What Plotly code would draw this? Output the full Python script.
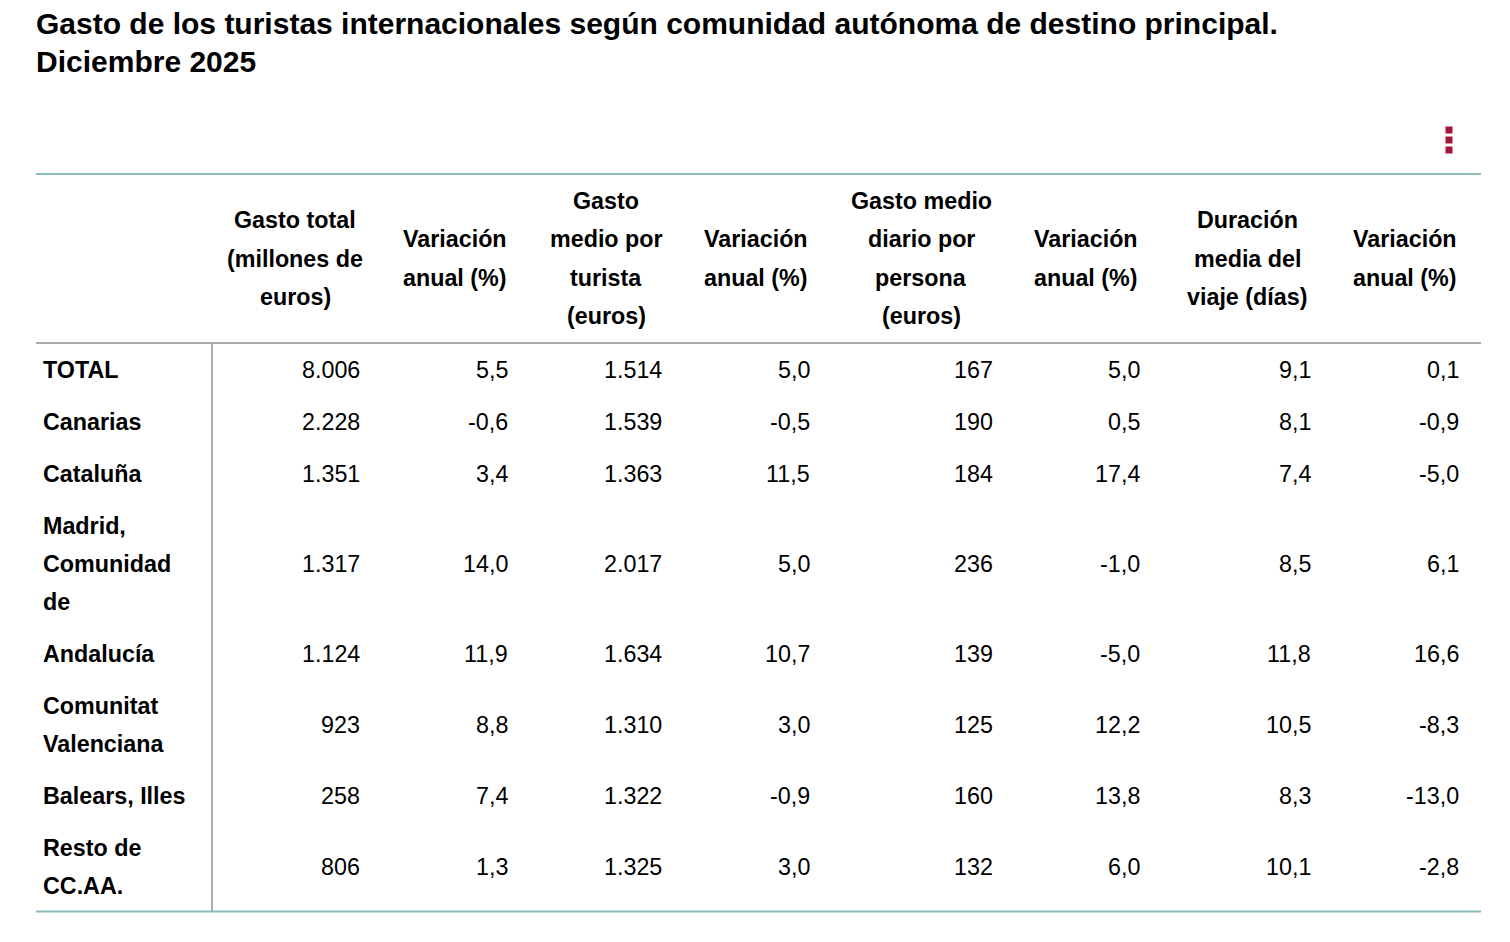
import plotly.graph_objects as go

# Gasto de los turistas internacionales, diciembre 2025
regions = [["TOTAL"], ["Canarias"], ["Cataluña"], ["Madrid,", "Comunidad", "de"],
           ["Andalucía"], ["Comunitat", "Valenciana"], ["Balears, Illes"], ["Resto de", "CC.AA."]]

headers = [
    ["Gasto total", "(millones de", "euros)"],
    ["Variación", "anual (%)"],
    ["Gasto", "medio por", "turista", "(euros)"],
    ["Variación", "anual (%)"],
    ["Gasto medio", "diario por", "persona", "(euros)"],
    ["Variación", "anual (%)"],
    ["Duración", "media del", "viaje (días)"],
    ["Variación", "anual (%)"],
]

gasto_total = [8006, 2228, 1351, 1317, 1124, 923, 258, 806]
var_gasto_total = [5.5, -0.6, 3.4, 14.0, 11.9, 8.8, 7.4, 1.3]
gasto_medio = [1514, 1539, 1363, 2017, 1634, 1310, 1322, 1325]
var_gasto_medio = [5.0, -0.5, 11.5, 5.0, 10.7, 3.0, -0.9, 3.0]
gasto_diario = [167, 190, 184, 236, 139, 125, 160, 132]
var_gasto_diario = [5.0, 0.5, 17.4, -1.0, -5.0, 12.2, 13.8, 6.0]
duracion = [9.1, 8.1, 7.4, 8.5, 11.8, 10.5, 8.3, 10.1]
var_duracion = [0.1, -0.9, -5.0, 6.1, 16.6, -8.3, -13.0, -2.8]


def fmt_int(v):
    return f"{v:,}".replace(",", ".")


def fmt_dec(v):
    return f"{v:.1f}".replace(".", ",")


columns = [
    [fmt_int(v) for v in gasto_total],
    [fmt_dec(v) for v in var_gasto_total],
    [fmt_int(v) for v in gasto_medio],
    [fmt_dec(v) for v in var_gasto_medio],
    [fmt_int(v) for v in gasto_diario],
    [fmt_dec(v) for v in var_gasto_diario],
    [fmt_dec(v) for v in duracion],
    [fmt_dec(v) for v in var_duracion],
]

# layout (pixels, in window coordinates)
FONT = "Liberation Sans, Arial, sans-serif"
FS = 23.3
HEAD_LINE = 38.3
LINE = 38
PAD = 14
head_centre_x = [295, 455, 606, 756, 921, 1086, 1247, 1405]
value_right_x = [362, 510, 664, 812, 995, 1142, 1313, 1461]
label_x = 41
left, right = 36, 1481
top_line, head_bottom = 174, 343
sep_x = 212
PAGE_MARGIN = 8  # default body margin of the html page

fig = go.Figure()
ann = []

# title
for i, t in enumerate(["Gasto de los turistas internacionales según comunidad autónoma de destino principal.",
                       "Diciembre 2025"]):
    ann.append(dict(x=34, y=23 + 38 * i, text=t, xanchor="left", yanchor="middle", showarrow=False,
                    font=dict(family=FONT, size=30, color="#000000", weight="bold")))

# header
head_mid = (top_line + head_bottom) / 2
for hx, lines in zip(head_centre_x, headers):
    y0 = head_mid - (len(lines) - 1) * HEAD_LINE / 2
    for k, t in enumerate(lines):
        ann.append(dict(x=hx, y=y0 + k * HEAD_LINE, text=t, xanchor="center", yanchor="middle", showarrow=False,
                        font=dict(family=FONT, size=FS, color="#000000", weight="bold")))

# body
y = head_bottom + 0.5
for r, lines in enumerate(regions):
    h = len(lines) * LINE + PAD
    mid = y + h / 2
    y0 = mid - (len(lines) - 1) * LINE / 2
    for k, t in enumerate(lines):
        ann.append(dict(x=label_x, y=y0 + k * LINE, text=t, xanchor="left", yanchor="middle", showarrow=False,
                        font=dict(family=FONT, size=FS, color="#000000", weight="bold")))
    for c, col in enumerate(columns):
        ann.append(dict(x=value_right_x[c], y=mid, text=col[r], xanchor="right", yanchor="middle",
                        showarrow=False, font=dict(family=FONT, size=FS, color="#000000")))
    y += h
table_bottom = y

shapes = [
    dict(type="line", x0=left, x1=right, y0=top_line, y1=top_line, line=dict(color="#8abdbb", width=2)),
    dict(type="line", x0=left, x1=right, y0=head_bottom, y1=head_bottom, line=dict(color="#aaaaaa", width=2)),
    dict(type="line", x0=sep_x, x1=sep_x, y0=head_bottom, y1=table_bottom, line=dict(color="#aaaaaa", width=2)),
    dict(type="line", x0=left, x1=right, y0=table_bottom, y1=table_bottom, line=dict(color="#8abdbb", width=2)),
]
# menu icon
for dy in (130, 140, 150):
    shapes.append(dict(type="rect", x0=1445.5, x1=1452.5, y0=dy - 3.5, y1=dy + 3.5,
                       fillcolor="#a0173a", line=dict(width=0)))

fig.update_layout(
    width=1510, height=942,
    margin=dict(l=0, r=0, t=0, b=0),
    paper_bgcolor="white", plot_bgcolor="white",
    xaxis=dict(range=[PAGE_MARGIN, 1510 + PAGE_MARGIN], visible=False, fixedrange=True),
    yaxis=dict(range=[942 + PAGE_MARGIN, PAGE_MARGIN], visible=False, fixedrange=True),
    annotations=ann, shapes=shapes, showlegend=False,
)

fig.write_html("out.html", config={"displayModeBar": False})
